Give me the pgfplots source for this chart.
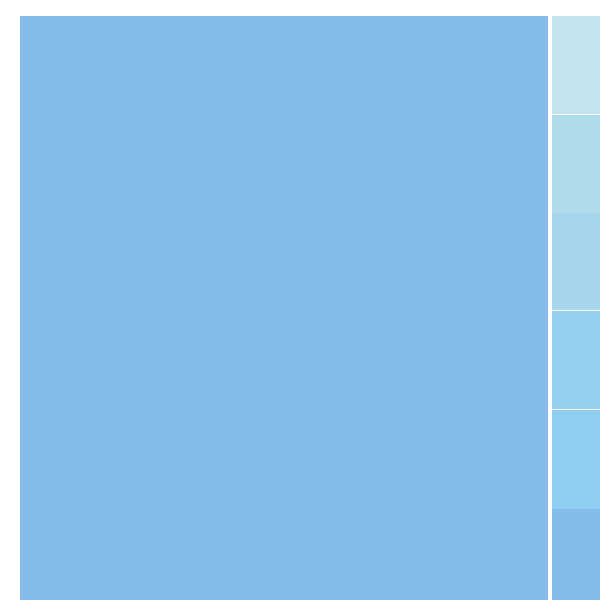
\documentclass[border=0pt]{standalone}
\usepackage{pgfplots}
\pgfplotsset{compat=1.18}
\definecolor{cbig}{HTML}{85BBE8}
\definecolor{ca}{HTML}{C3E3EE}
\definecolor{cb}{HTML}{B0DBEB}
\definecolor{cc}{HTML}{A5D6EC}
\definecolor{cd}{HTML}{94D0EE}
\definecolor{ce}{HTML}{8ECEEF}
\definecolor{cf}{HTML}{85BBE8}
\begin{document}
\begin{tikzpicture}
\begin{axis}[scale only axis, width=300pt, height=300pt, hide axis,
  xmin=0, xmax=600, ymin=0, ymax=600, clip=true]
\addplot[fill=white, draw=none] coordinates {(0,0) (600,0) (600,600) (0,600)} -- cycle;
\addplot[fill=cbig, draw=none] coordinates {(20,0) (548,0) (548,584) (20,584)} -- cycle;
\addplot[fill=ca, draw=none] coordinates {(552,486) (600,486) (600,584) (552,584)} -- cycle;
\addplot[fill=cb, draw=none] coordinates {(552,387) (600,387) (600,485) (552,485)} -- cycle;
\addplot[fill=cc, draw=none] coordinates {(552,289.5) (600,289.5) (600,387) (552,387)} -- cycle;
\addplot[fill=cd, draw=none] coordinates {(552,191) (600,191) (600,288.5) (552,288.5)} -- cycle;
\addplot[fill=ce, draw=none] coordinates {(552,91) (600,91) (600,190) (552,190)} -- cycle;
\addplot[fill=cf, draw=none] coordinates {(552,0) (600,0) (600,91) (552,91)} -- cycle;
\end{axis}
\end{tikzpicture}
\end{document}
